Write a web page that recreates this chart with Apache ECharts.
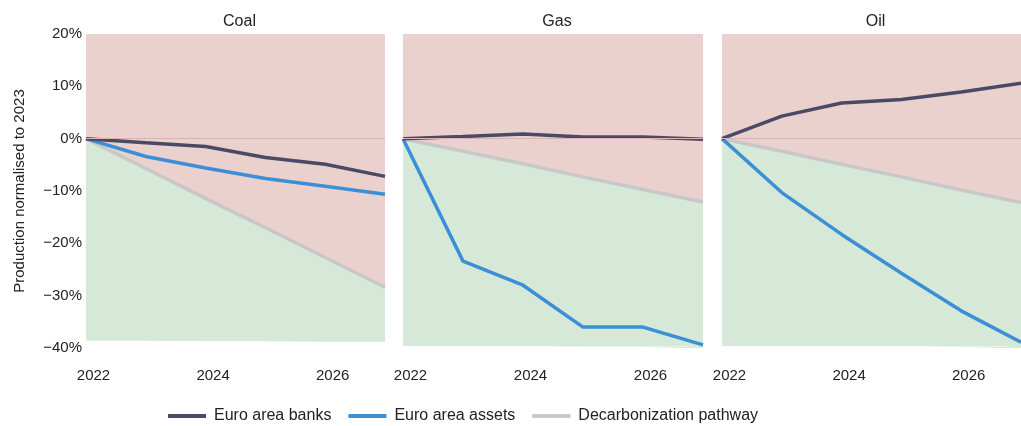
<!DOCTYPE html>
<html>
<head>
<meta charset="utf-8">
<script src="https://cdn.jsdelivr.net/npm/echarts@6/dist/echarts.min.js"></script>
<style>
  html, body { margin: 0; padding: 0; background: #fff; }
  #chart { width: 1021px; height: 426px; }
</style>
</head>
<body>
<div id="chart"></div>
<script>
var years = [2022, 2023, 2024, 2025, 2026, 2027];
var panels = ['Coal', 'Gas', 'Oil'];

var coalBanks = [0, -0.8, -1.5, -3.6, -4.9, -7.2];
var coalAssets = [0, -3.4, -5.6, -7.6, -9.1, -10.6];
var coalPathway = [0, -5.7, -11.4, -17.0, -22.7, -28.4];
var coalFloor = [-38.6, -38.6, -38.7, -38.7, -38.8, -38.8];

var gasBanks = [0, 0.4, 0.9, 0.3, 0.3, -0.1];
var gasAssets = [0, -23.4, -28.0, -36.0, -36.0, -39.4];
var gasPathway = [0, -2.4, -4.8, -7.3, -9.7, -12.1];
var gasFloor = [-39.6, -39.6, -39.6, -39.7, -39.7, -39.7];

var oilBanks = [0, 4.3, 6.8, 7.5, 8.9, 10.6];
var oilAssets = [0, -10.3, -18.3, -25.7, -32.9, -38.9];
var oilPathway = [0, -2.4, -4.9, -7.3, -9.8, -12.2];
var oilFloor = [-39.6, -39.6, -39.6, -39.6, -39.7, -39.7];

var banks = [coalBanks, gasBanks, oilBanks];
var assets = [coalAssets, gasAssets, oilAssets];
var pathways = [coalPathway, gasPathway, oilPathway];
var floors = [coalFloor, gasFloor, oilFloor];

var font = "'Liberation Sans', Arial, sans-serif";
var cBanks = '#4b4a66';
var cAssets = '#3a8fd6';
var cPath = '#c8c8c8';

var grids = [
    { left: 86, top: 34, width: 299, height: 314 },
    { left: 403, top: 34, width: 300, height: 314 },
    { left: 722, top: 34, width: 299, height: 314 }
];

function pairs(vals) {
    return years.map(function (y, i) { return [y, vals[i]]; });
}

var titles = [], xAxes = [], yAxes = [], series = [];

for (var p = 0; p < 3; p++) {
    titles.push({
        text: panels[p],
        left: grids[p].left + grids[p].width / 2 - 1,
        top: 9,
        textAlign: 'center',
        textStyle: { fontFamily: font, fontSize: 16, fontWeight: 'normal', color: '#222' }
    });
    xAxes.push({
        gridIndex: p,
        type: 'value',
        min: 2022,
        max: 2027,
        interval: 2,
        axisLine: { show: false },
        axisTick: { show: false },
        splitLine: { show: false },
        axisLabel: {
            showMaxLabel: false,
            margin: 20,
            padding: [0, 0, 0, 15],
            fontFamily: font,
            fontSize: 15,
            color: '#222',
            formatter: function (v) { return String(v); }
        }
    });
    yAxes.push({
        gridIndex: p,
        type: 'value',
        min: -40,
        max: 20,
        interval: 10,
        show: p === 0,
        name: p === 0 ? 'Production normalised to 2023' : '',
        nameLocation: 'middle',
        nameRotate: 90,
        nameGap: 59,
        nameTextStyle: { fontFamily: font, fontSize: 15, color: '#222' },
        axisLine: { show: false },
        axisTick: { show: false },
        splitLine: { show: false },
        axisLabel: {
            margin: 4,
            fontFamily: font,
            fontSize: 15,
            color: '#222',
            formatter: function (v) { return (v < 0 ? '\u2212' + Math.abs(v) : v) + '%'; }
        }
    });

    // green below the pathway, white mask under the floor, red above the pathway
    series.push({
        type: 'line', xAxisIndex: p, yAxisIndex: p, z: 1,
        data: pairs(pathways[p]), symbol: 'none', silent: true,
        lineStyle: { width: 0 },
        areaStyle: { color: '#d6e8d7', opacity: 1, origin: 'start' }
    });
    series.push({
        type: 'line', xAxisIndex: p, yAxisIndex: p, z: 1,
        data: pairs(floors[p]), symbol: 'none', silent: true,
        lineStyle: { width: 0 },
        areaStyle: { color: '#ffffff', opacity: 1, origin: 'start' }
    });
    series.push({
        type: 'line', xAxisIndex: p, yAxisIndex: p, z: 1,
        data: pairs(pathways[p]), symbol: 'none', silent: true,
        lineStyle: { color: '#eeb79c', width: 1 },
        areaStyle: { color: '#ebd1cd', opacity: 1, origin: 'end' },
        markLine: {
            silent: true, symbol: 'none', label: { show: false },
            lineStyle: { color: '#dbb2ad', width: 1, type: 'solid' },
            data: [{ yAxis: 0 }]
        }
    });
    series.push({
        name: 'Decarbonization pathway',
        type: 'line', xAxisIndex: p, yAxisIndex: p, z: 3,
        data: pairs(pathways[p]), symbol: 'none',
        lineStyle: { color: cPath, width: 3.5 },
        itemStyle: { color: cPath }
    });
    series.push({
        name: 'Euro area assets',
        type: 'line', xAxisIndex: p, yAxisIndex: p, z: 3,
        data: pairs(assets[p]), symbol: 'none',
        lineStyle: { color: cAssets, width: 3.5 },
        itemStyle: { color: cAssets }
    });
    series.push({
        name: 'Euro area banks',
        type: 'line', xAxisIndex: p, yAxisIndex: p, z: 3,
        data: pairs(banks[p]), symbol: 'none',
        lineStyle: { color: cBanks, width: 3.5 },
        itemStyle: { color: cBanks }
    });
}

var chart = echarts.init(document.getElementById('chart'), null, { renderer: 'canvas' });
chart.setOption({
    animation: false,
    backgroundColor: '#fff',
    title: titles,
    grid: grids,
    xAxis: xAxes,
    yAxis: yAxes,
    legend: {
        data: ['Euro area banks', 'Euro area assets', 'Decarbonization pathway'],
        left: 163,
        top: 403,
        icon: 'rect',
        itemWidth: 38,
        itemHeight: 4,
        itemGap: 17,
        textStyle: { fontFamily: font, fontSize: 16, color: '#222', padding: [0, 0, 0, 3] }
    },
    series: series
});
</script>
</body>
</html>
